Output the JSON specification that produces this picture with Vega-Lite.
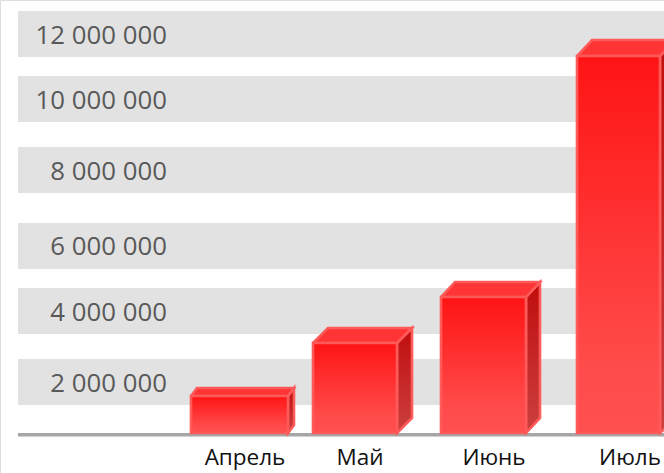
{"$schema":"https://vega.github.io/schema/vega-lite/v6.json","width":664,"height":473,"padding":0,"autosize":{"type":"none"},"background":"white",
"datasets":{
"bands":[{"label":"12 000 000","mid":11940000,"lo":11308000,"hi":12692000},{"label":"10 000 000","mid":10000000,"lo":9353000,"hi":10737000},{"label":"8 000 000","mid":7850000,"lo":7218000,"hi":8602000},{"label":"6 000 000","mid":5580000,"lo":4932000,"hi":6316000},{"label":"4 000 000","mid":3620000,"lo":2977000,"hi":4361000},{"label":"2 000 000","mid":1480000,"lo":842000,"hi":2226000}],
"bars":[{"month":"Апрель","value":1113000,"left":191,"right":288,"lx":245},{"month":"Май","value":2707000,"left":313,"right":397,"lx":360},{"month":"Июнь","value":4090000,"left":441,"right":526,"lx":494},{"month":"Июль","value":11338000,"left":577,"right":660,"lx":630}],
"tops":[
{"m":"Апрель","i":0,"x":191,"y":1113000},{"m":"Апрель","i":1,"x":288,"y":1113000},{"m":"Апрель","i":2,"x":294,"y":1353000},{"m":"Апрель","i":3,"x":197,"y":1353000},{"m":"Апрель","i":4,"x":191,"y":1113000},
{"m":"Май","i":0,"x":313,"y":2707000},{"m":"Май","i":1,"x":397,"y":2707000},{"m":"Май","i":2,"x":412,"y":3158000},{"m":"Май","i":3,"x":328,"y":3158000},{"m":"Май","i":4,"x":313,"y":2707000},
{"m":"Июнь","i":0,"x":441,"y":4090000},{"m":"Июнь","i":1,"x":526,"y":4090000},{"m":"Июнь","i":2,"x":540,"y":4541000},{"m":"Июнь","i":3,"x":455,"y":4541000},{"m":"Июнь","i":4,"x":441,"y":4090000},
{"m":"Июль","i":0,"x":577,"y":11338000},{"m":"Июль","i":1,"x":660,"y":11338000},{"m":"Июль","i":2,"x":676,"y":11820000},{"m":"Июль","i":3,"x":592,"y":11820000},{"m":"Июль","i":4,"x":577,"y":11338000}],
"sides":[
{"m":"Апрель","i":0,"x":288,"y":1113000},{"m":"Апрель","i":1,"x":294,"y":1353000},{"m":"Апрель","i":2,"x":294,"y":240000},{"m":"Апрель","i":3,"x":288,"y":0},{"m":"Апрель","i":4,"x":288,"y":1113000},
{"m":"Май","i":0,"x":397,"y":2707000},{"m":"Май","i":1,"x":412,"y":3158000},{"m":"Май","i":2,"x":412,"y":451000},{"m":"Май","i":3,"x":397,"y":0},{"m":"Май","i":4,"x":397,"y":2707000},
{"m":"Июнь","i":0,"x":526,"y":4090000},{"m":"Июнь","i":1,"x":540,"y":4541000},{"m":"Июнь","i":2,"x":540,"y":451000},{"m":"Июнь","i":3,"x":526,"y":0},{"m":"Июнь","i":4,"x":526,"y":4090000},
{"m":"Июль","i":0,"x":660,"y":11338000},{"m":"Июль","i":1,"x":676,"y":11820000},{"m":"Июль","i":2,"x":676,"y":451000},{"m":"Июль","i":3,"x":660,"y":0},{"m":"Июль","i":4,"x":660,"y":11338000}]
},
"layer":[
{"data":{"name":"bands"},"mark":{"type":"rect","color":"#e2e2e2"},"encoding":{"x":{"datum":18,"type":"quantitative","scale":{"domain":[0,664],"nice":false,"zero":false},"axis":null},"x2":{"datum":664},"y":{"field":"lo","type":"quantitative","scale":{"domain":[-1203000,13023000],"nice":false,"zero":false},"axis":null},"y2":{"field":"hi"}}},
{"data":{"name":"bands"},"mark":{"type":"text","align":"right","baseline":"middle","font":"Open Sans","fontSize":25.8,"color":"#595959"},"encoding":{"x":{"datum":167,"type":"quantitative","scale":{"domain":[0,664],"nice":false,"zero":false},"axis":null},"y":{"field":"mid","type":"quantitative","scale":{"domain":[-1203000,13023000],"nice":false,"zero":false},"axis":null},"text":{"field":"label"}}},
{"data":{"name":"bands"},"mark":{"type":"rect","color":"#a6a6a6"},"transform":[{"filter":"datum.label=='12 000 000'"}],"encoding":{"x":{"datum":18,"type":"quantitative","scale":{"domain":[0,664],"nice":false,"zero":false},"axis":null},"x2":{"datum":664},"y":{"datum":0,"type":"quantitative","scale":{"domain":[-1203000,13023000],"nice":false,"zero":false},"axis":null},"y2":{"datum":-105000}}},
{"data":{"name":"sides"},"mark":{"type":"line","clip":true,"strokeWidth":2.6,"stroke":"#ff5a5a","strokeJoin":"miter","fill":{"x1":0,"y1":0,"x2":0,"y2":1,"gradient":"linear","stops":[{"offset":0,"color":"#c00d0d"},{"offset":1,"color":"#cc4040"}]}},"encoding":{"x":{"field":"x","type":"quantitative","scale":{"domain":[0,664],"nice":false,"zero":false},"axis":null},"y":{"field":"y","type":"quantitative","scale":{"domain":[-1203000,13023000],"nice":false,"zero":false},"axis":null},"detail":{"field":"m"},"order":{"field":"i"}}},
{"data":{"name":"tops"},"mark":{"type":"line","clip":true,"strokeWidth":2.6,"stroke":"#ff5a5a","strokeJoin":"miter","fill":"#ff3535"},"encoding":{"x":{"field":"x","type":"quantitative","scale":{"domain":[0,664],"nice":false,"zero":false},"axis":null},"y":{"field":"y","type":"quantitative","scale":{"domain":[-1203000,13023000],"nice":false,"zero":false},"axis":null},"detail":{"field":"m"},"order":{"field":"i"}}},
{"data":{"name":"bars"},"mark":{"type":"rect","strokeWidth":2.6,"stroke":"#ff5a5a","fill":{"x1":0,"y1":0,"x2":0,"y2":1,"gradient":"linear","stops":[{"offset":0,"color":"#ff1414"},{"offset":0.8,"color":"#ff4a4a"},{"offset":1,"color":"#ff5050"}]}},"encoding":{"x":{"field":"left","type":"quantitative","scale":{"domain":[0,664],"nice":false,"zero":false},"axis":null},"x2":{"field":"right"},"y":{"field":"value","type":"quantitative","scale":{"domain":[-1203000,13023000],"nice":false,"zero":false},"axis":null},"y2":{"datum":0}}},
{"data":{"name":"bars"},"mark":{"type":"text","align":"center","baseline":"middle","font":"Open Sans","fontSize":22.5,"color":"#111111"},"encoding":{"x":{"field":"lx","type":"quantitative","scale":{"domain":[0,664],"nice":false,"zero":false},"axis":null},"y":{"datum":-760000,"type":"quantitative","scale":{"domain":[-1203000,13023000],"nice":false,"zero":false},"axis":null},"text":{"field":"month"}}}
]}
